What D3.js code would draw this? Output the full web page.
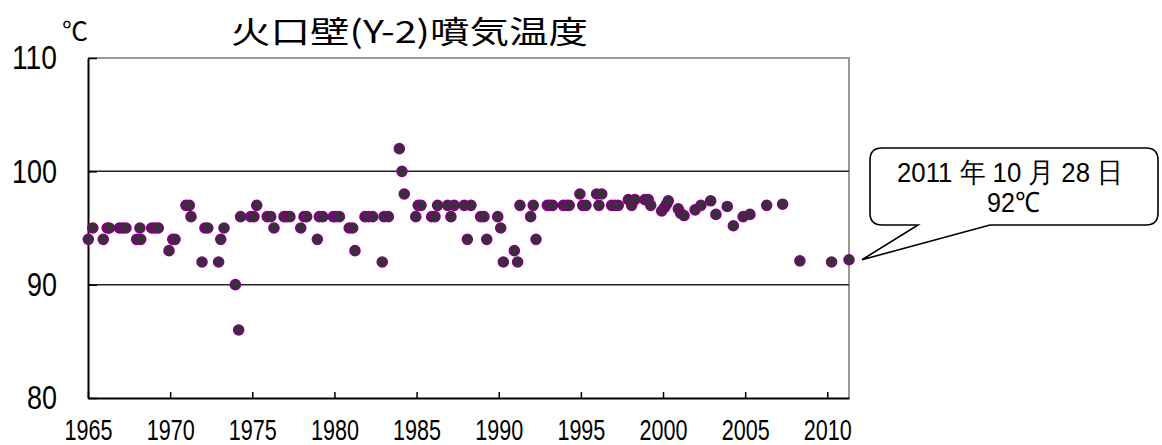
<!DOCTYPE html>
<html>
<head>
<meta charset="utf-8">
<script src="https://cdn.jsdelivr.net/npm/d3@7"></script>
<style>
  body { margin: 0; background: #fff; }
  svg { display: block; }
  .num { font-family: "Liberation Sans Narrow", "Liberation Sans", sans-serif; fill: #000; }
  .jp { font-family: "Noto Sans CJK JP", sans-serif; fill: #000; }
</style>
</head>
<body>
<svg id="chart"></svg>
<script>
// observation dates as decimal years, and temperatures (℃)
const years = [
  1965.02, 1965.29, 1965.93, 1966.17, 1966.30, 1966.91, 1967.11, 1967.31, 1967.96, 1968.16,
  1968.21, 1968.88, 1969.08, 1969.28, 1969.93, 1970.16, 1970.30, 1970.96, 1971.17, 1971.27,
  1971.94, 1972.12, 1972.29, 1972.95, 1973.08, 1973.28, 1973.97, 1974.17, 1974.29, 1974.90,
  1975.10, 1975.27, 1975.91, 1976.12, 1976.32, 1976.93, 1977.09, 1977.29, 1977.95, 1978.15,
  1978.31, 1978.96, 1979.08, 1979.29, 1979.93, 1980.09, 1980.30, 1980.90, 1981.11, 1981.25,
  1981.86, 1982.06, 1982.33, 1982.91, 1983.02, 1983.28, 1983.95, 1984.11, 1984.25, 1984.95,
  1985.10, 1985.27, 1985.92, 1986.12, 1986.28, 1986.89, 1987.09, 1987.29, 1987.90, 1988.09,
  1988.31, 1988.90, 1989.10, 1989.27, 1989.94, 1990.12, 1990.28, 1990.95, 1991.15, 1991.29,
  1991.94, 1992.10, 1992.27, 1992.96, 1993.12, 1993.28, 1993.93, 1994.14, 1994.29, 1994.94,
  1995.11, 1995.31, 1995.96, 1996.10, 1996.27, 1996.87, 1997.07, 1997.28, 1997.89, 1998.09,
  1998.29, 1998.90, 1999.10, 1999.25, 1999.92, 2000.08, 2000.22, 2000.32, 2000.93, 2001.07,
  2001.28, 2001.95, 2002.31, 2002.90, 2003.22, 2003.91, 2004.28, 2004.88, 2005.29, 2006.31,
  2007.28, 2008.33, 2010.26, 2011.32
];
const temps = [
  94, 95, 94, 95, 95, 95, 95, 95, 94, 95,
  94, 95, 95, 95, 93, 94, 94, 97, 97, 96,
  92, 95, 95, 92, 94, 95, 90, 86, 96, 96,
  96, 97, 96, 96, 95, 96, 96, 96, 95, 96,
  96, 94, 96, 96, 96, 96, 96, 95, 95, 93,
  96, 96, 96, 92, 96, 96, 102, 100, 98, 96,
  97, 97, 96, 96, 97, 97, 96, 97, 97, 94,
  97, 96, 96, 94, 96, 95, 92, 93, 92, 97,
  96, 97, 94, 97, 97, 97, 97, 97, 97, 98,
  97, 97, 98, 97, 98, 97, 97, 97, 97.5, 97,
  97.5, 97.5, 97.5, 97, 96.5, 96.8, 97.1, 97.4, 96.7, 96.3,
  96.1, 96.6, 97, 97.4, 96.2, 96.9, 95.2, 96, 96.2, 97,
  97.1, 92.1, 92.0, 92.2
];
const xTicks = [1965, 1970, 1975, 1980, 1985, 1990, 1995, 2000, 2005, 2010];
const yTicks = [80, 90, 100, 110];
const gridValues = [90, 100];
const title = "火口壁(Y-2)噴気温度";
const unitLabel = "℃";
const calloutLines = ["2011 年 10 月 28 日", "92℃"];

const width = 1162, height = 445;
const plotLeft = 88, plotRight = 849, plotTop = 58, plotBottom = 398;

const svg = d3.select("#chart").attr("width", width).attr("height", height);

const x = d3.scaleLinear().domain([1965, years[years.length - 1]]).range([plotLeft, plotRight]);
const y = d3.scaleLinear().domain([80, 110]).range([plotBottom, plotTop]);

// frame: top and right in gray
svg.append("path")
  .attr("d", `M${plotLeft},${plotTop}H${plotRight}V${plotBottom}`)
  .attr("fill", "none")
  .attr("stroke", "#999")
  .attr("stroke-width", 2);

// horizontal gridlines
svg.selectAll(".grid")
  .data(gridValues)
  .enter()
  .append("line")
  .attr("x1", plotLeft).attr("x2", plotRight)
  .attr("y1", d => y(d)).attr("y2", d => y(d))
  .attr("stroke", "#222")
  .attr("stroke-width", 1.5);

// x axis
const xAxis = svg.append("g")
  .attr("transform", `translate(0,${plotBottom})`)
  .call(d3.axisBottom(x).tickValues(xTicks).tickFormat(d3.format("d")).tickSizeInner(-6).tickSizeOuter(0));
xAxis.attr("font-family", null).attr("font-size", null);
xAxis.select(".domain").attr("stroke", "#000").attr("stroke-width", 2);
xAxis.selectAll(".tick line").attr("stroke", "#000").attr("stroke-width", 1.5);
xAxis.selectAll(".tick text")
  .attr("class", "num")
  .attr("y", 42).attr("dy", null)
  .style("font-size", "29px")
  .attr("textLength", 48)
  .attr("lengthAdjust", "spacingAndGlyphs");

// y axis
const yAxis = svg.append("g")
  .attr("transform", `translate(${plotLeft},0)`)
  .call(d3.axisLeft(y).tickValues(yTicks).tickSizeInner(-9).tickSizeOuter(0));
yAxis.attr("font-family", null).attr("font-size", null);
yAxis.select(".domain").attr("stroke", "#000").attr("stroke-width", 2);
yAxis.selectAll(".tick line").attr("stroke", "#000").attr("stroke-width", 1.5);
yAxis.selectAll(".tick text")
  .attr("class", "num")
  .attr("x", -31).attr("dy", "0.32em")
  .style("font-size", "34px")
  .attr("textLength", d => String(d).length * 15)
  .attr("lengthAdjust", "spacingAndGlyphs");

// unit and title
svg.append("text")
  .attr("class", "jp")
  .attr("x", 62).attr("y", 41)
  .style("font-size", "26px")
  .text(unitLabel);

svg.append("text")
  .attr("class", "jp")
  .attr("x", 231).attr("y", 43)
  .style("font-size", "31px")
  .attr("textLength", 357)
  .attr("lengthAdjust", "spacingAndGlyphs")
  .text(title);

// data points
svg.append("g")
  .selectAll("circle")
  .data(years.map((yr, i) => [yr, temps[i]]))
  .enter()
  .append("circle")
  .attr("cx", d => x(d[0]))
  .attr("cy", d => y(d[1]))
  .attr("r", 5)
  .attr("fill", "#333")
  .attr("stroke", "#800080")
  .attr("stroke-width", 1.6);

// callout for the latest observation
const tipX = x(years[years.length - 1]) + 13;
const tipY = y(temps[temps.length - 1]);
const bx0 = 870, bx1 = 1158, by0 = 148, by1 = 225, r = 12;
svg.append("path")
  .attr("d", `M${bx0 + r},${by0}H${bx1 - r}Q${bx1},${by0} ${bx1},${by0 + r}V${by1 - r}Q${bx1},${by1} ${bx1 - r},${by1}` +
    `H990L${tipX},${tipY}L918,${by1}H${bx0 + r}Q${bx0},${by1} ${bx0},${by1 - r}V${by0 + r}Q${bx0},${by0} ${bx0 + r},${by0}Z`)
  .attr("fill", "#fff")
  .attr("stroke", "#000")
  .attr("stroke-width", 1.6);

svg.append("text")
  .attr("class", "num")
  .attr("x", 897).attr("y", 182)
  .style("font-size", "28px")
  .attr("textLength", 226)
  .attr("lengthAdjust", "spacingAndGlyphs")
  .text(calloutLines[0]);

svg.append("text")
  .attr("class", "num")
  .attr("x", 987).attr("y", 212)
  .style("font-size", "28px")
  .attr("textLength", 53)
  .attr("lengthAdjust", "spacingAndGlyphs")
  .text(calloutLines[1]);
</script>
</body>
</html>
